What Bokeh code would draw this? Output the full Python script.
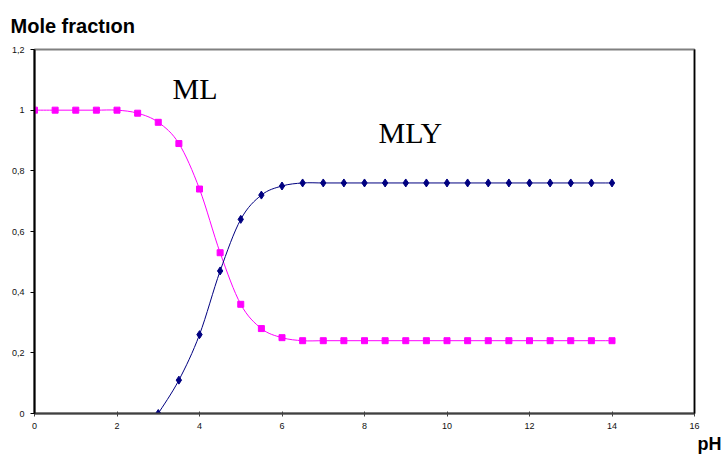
from bokeh.plotting import figure
from bokeh.models import Range1d, Label, LinearAxis, FixedTicker, ColumnDataSource, Title
from bokeh.embed import file_html
from bokeh.resources import INLINE

# ---- data ----
ph_ml = [0, 0.5, 1, 1.5, 2, 2.5, 3, 3.5, 4, 4.5, 5, 5.5, 6, 6.5, 7, 7.5, 8, 8.5, 9,
         9.5, 10, 10.5, 11, 11.5, 12, 12.5, 13, 13.5, 14]
ml = [1, 1, 1, 1, 1, 0.99, 0.96, 0.89, 0.74, 0.53, 0.36, 0.28, 0.25, 0.24, 0.24, 0.24,
      0.24, 0.24, 0.24, 0.24, 0.24, 0.24, 0.24, 0.24, 0.24, 0.24, 0.24, 0.24, 0.24]
ph_mly = [3, 3.5, 4, 4.5, 5, 5.5, 6, 6.5, 7, 7.5, 8, 8.5, 9, 9.5, 10, 10.5, 11, 11.5,
          12, 12.5, 13, 13.5, 14]
mly = [0, 0.11, 0.26, 0.47, 0.64, 0.72, 0.75, 0.76, 0.76, 0.76, 0.76, 0.76, 0.76, 0.76,
       0.76, 0.76, 0.76, 0.76, 0.76, 0.76, 0.76, 0.76, 0.76]
x_ticks = [0, 2, 4, 6, 8, 10, 12, 14, 16]
y_ticks = [0, 0.2, 0.4, 0.6, 0.8, 1.0, 1.2]
y_tick_labels = ["0", "0,2", "0,4", "0,6", "0,8", "1", "1,2"]

FONT = "Liberation Sans"
SERIF = "Liberation Serif"


def smooth_segments(xs, ys):
    """Bezier control points (Catmull-Rom style smoothing, as in spreadsheet charts)."""
    n = len(xs)
    d = dict(x0=[], y0=[], x1=[], y1=[], cx0=[], cy0=[], cx1=[], cy1=[])
    for i in range(n - 1):
        p0 = max(i - 1, 0)
        p3 = min(i + 2, n - 1)
        d["x0"].append(xs[i]); d["y0"].append(ys[i])
        d["x1"].append(xs[i + 1]); d["y1"].append(ys[i + 1])
        d["cx0"].append(xs[i] + (xs[i + 1] - xs[p0]) / 6)
        d["cy0"].append(ys[i] + (ys[i + 1] - ys[p0]) / 6)
        d["cx1"].append(xs[i + 1] - (xs[p3] - xs[i]) / 6)
        d["cy1"].append(ys[i + 1] - (ys[p3] - ys[i]) / 6)
    return ColumnDataSource(d)


p = figure(width=726, height=455, output_backend="svg", toolbar_location=None,
           x_range=Range1d(0, 16), y_range=Range1d(0, 1.2),
           min_border_left=34, min_border_right=32, min_border_top=49, min_border_bottom=42)
p.background_fill_color = "white"
p.border_fill_color = "white"
p.grid.visible = False
p.outline_line_color = "#808080"
p.outline_line_width = 2

# title
p.title.text = "Mole fractıon"
p.title.text_font = FONT
p.title.text_font_size = "20px"
p.title.text_font_style = "bold"
p.title.text_color = "black"
p.title.align = "left"
p.title.offset = -24
p.title.standoff = 25

# axes
xa = p.xaxis[0]
xa.ticker = FixedTicker(ticks=x_ticks)
xa.axis_line_color = "#404040"
xa.axis_line_width = 2
xa.major_tick_in = 2
xa.major_tick_out = 3
xa.major_tick_line_color = "#404040"
xa.minor_tick_line_color = None
xa.major_label_text_font = FONT
xa.major_label_text_font_size = "9px"
xa.major_label_text_color = "#111111"
xa.major_label_standoff = 6

ya = p.yaxis[0]
ya.ticker = FixedTicker(ticks=y_ticks)
ya.major_label_overrides = {t: l for t, l in zip(y_ticks, y_tick_labels)}
ya.axis_line_color = "black"
ya.axis_line_width = 2
ya.major_tick_in = 0
ya.major_tick_out = 4
ya.major_tick_line_color = "black"
ya.minor_tick_line_color = None
ya.major_label_text_font = FONT
ya.major_label_text_font_size = "9px"
ya.major_label_text_color = "#111111"
ya.major_label_standoff = 6

ra = LinearAxis(major_tick_line_color=None, minor_tick_line_color=None,
                major_label_text_font_size="0px", axis_line_color="black", axis_line_width=1.5)
ra.ticker = FixedTicker(ticks=[])
p.add_layout(ra, "right")

# x axis title at bottom right
p.add_layout(Title(text="pH", text_font=FONT, text_font_size="18px", text_font_style="bold",
                   text_color="black", align="left", offset=663, standoff=0), "below")

# curves
s1 = smooth_segments(ph_ml, ml)
p.bezier(x0="x0", y0="y0", x1="x1", y1="y1", cx0="cx0", cy0="cy0", cx1="cx1", cy1="cy1",
         source=s1, line_color="#FF00FF", line_width=1)
p.scatter(ph_ml, ml, marker="square", size=6, fill_color="#FF00FF", line_color="#FF00FF")

s2 = smooth_segments(ph_mly, mly)
p.bezier(x0="x0", y0="y0", x1="x1", y1="y1", cx0="cx0", cy0="cy0", cx1="cx1", cy1="cy1",
         source=s2, line_color="#000080", line_width=1)
p.scatter(ph_mly, mly, marker="diamond", size=8, fill_color="#000080", line_color="#000080")

# series labels
p.add_layout(Label(x=3.345, y=1.073, text="ML", text_font=SERIF, text_font_size="30px",
                   text_color="black", text_baseline="alphabetic"))
p.add_layout(Label(x=8.34, y=0.928, text="MLY", text_font=SERIF, text_font_size="30px",
                   text_color="black", text_baseline="alphabetic"))

open("out.html", "w").write(file_html(p, INLINE))
